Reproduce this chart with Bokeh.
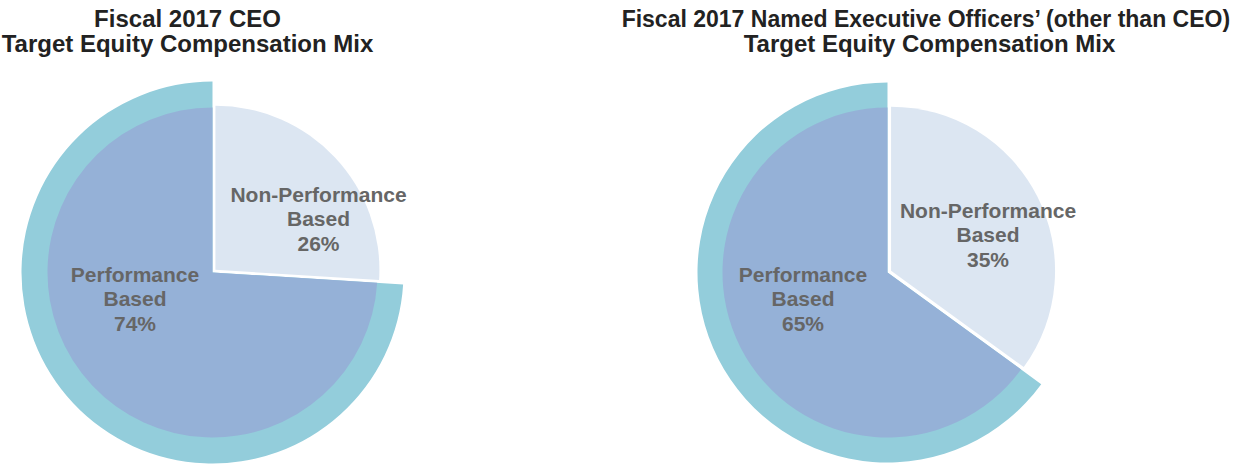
import math
from bokeh.plotting import figure
from bokeh.models import Range1d
from bokeh.core.properties import value
from bokeh.embed import file_html
from bokeh.resources import INLINE

# ---- data ----
groups = ["CEO", "NEO"]
title_line1 = ["Fiscal 2017 CEO", "Fiscal 2017 Named Executive Officers\u2019 (other than CEO)"]
title_line2 = ["Target Equity Compensation Mix", "Target Equity Compensation Mix"]
perf_label = ["Performance", "Based"]
nonperf_label = ["Non-Performance", "Based"]
perf_pct = [74, 65]
nonperf_pct = [26, 35]

# ---- layout (pixel-like data units) ----
W, H = 1234, 464
def X(px):
    return px
def Y(py):
    return H - py

centers = [(212, 272), (887, 272)]
title_x = [(187, 187), (926, 929)]
title_size = [("24px", "24px"), ("23px", "24px")]
title_base = [26, 50.7]
perf_lab_pos = [(134.5, [281.7, 306.0, 330.7]), (802.5, [281.7, 306.0, 331.0])]
nonperf_lab_pos = [(318, [201.7, 226.2, 250.7]), (987.5, [217.7, 242.0, 266.5])]
TEXT_DY = 8
R_IN = 165
R_RING = [191, 190]
EXPLODE = 4

C_RING = "#93CDDB"
C_PERF = "#95B1D7"
C_NON = "#DCE6F2"
C_LAB = "#666666"
C_TITLE = "#222222"
FONT = value("Liberation Sans")

p = figure(width=W, height=H, x_range=Range1d(0, W), y_range=Range1d(0, H),
           output_backend="svg", toolbar_location=None, min_border=0)
p.axis.visible = False
p.grid.visible = False
p.outline_line_color = None
p.background_fill_color = "white"

def label(x, base, txt, size, color):
    p.text(x=[X(x)], y=[Y(base - TEXT_DY)], text=[txt], text_align="center",
           text_baseline="alphabetic", text_font=FONT, text_font_style="bold",
           text_font_size=size, text_color=color)

for i, g in enumerate(groups):
    cx, cy = X(centers[i][0]), Y(centers[i][1])
    frac_non = nonperf_pct[i] / (perf_pct[i] + nonperf_pct[i])
    a_top = math.pi / 2
    a_split = math.pi / 2 - 2 * math.pi * frac_non
    # ring behind performance slice
    p.wedge(x=[cx], y=[cy], radius=R_RING[i], start_angle=a_top,
            end_angle=a_split + 2 * math.pi, fill_color=C_RING, line_color=None)
    # performance slice
    p.wedge(x=[cx], y=[cy], radius=R_IN, start_angle=a_top,
            end_angle=a_split + 2 * math.pi, fill_color=C_PERF, line_color=None)
    # non-performance slice (exploded)
    bis = (a_top + a_split) / 2
    ex, ey = cx + EXPLODE * math.cos(bis), cy + EXPLODE * math.sin(bis)
    p.wedge(x=[ex], y=[ey], radius=R_IN - 1, start_angle=a_split, end_angle=a_top,
            fill_color=C_NON, line_color=None)

    for txt, b, tx, ts in zip([title_line1[i], title_line2[i]], title_base,
                              title_x[i], title_size[i]):
        label(tx, b, txt, ts, C_TITLE)

    lx, lys = perf_lab_pos[i]
    for txt, b in zip(perf_label + [f"{perf_pct[i]}%"], lys):
        label(lx, b, txt, "21px", C_LAB)
    lx, lys = nonperf_lab_pos[i]
    for txt, b in zip(nonperf_label + [f"{nonperf_pct[i]}%"], lys):
        label(lx, b, txt, "21px", C_LAB)

open("out.html", "w").write(file_html(p, INLINE))
